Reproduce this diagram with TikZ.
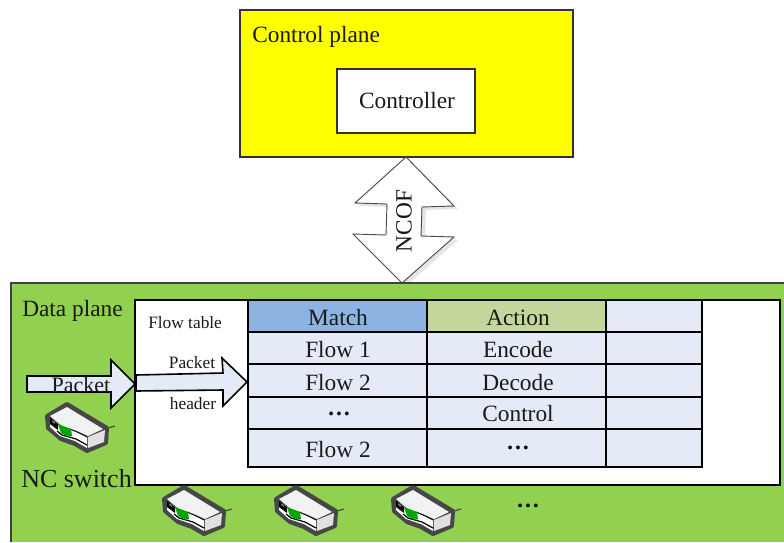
\documentclass[tikz,border=0pt]{standalone}
\usepackage{fontspec}
\setmainfont{Liberation Serif}
\usetikzlibrary{calc}
\definecolor{planegreen}{HTML}{92D14F}
\definecolor{cellblue}{HTML}{E4EBF6}
\definecolor{matchblue}{HTML}{8DB3E2}
\definecolor{actiongreen}{HTML}{C3D69B}
\definecolor{ctrlyellow}{HTML}{FFFF00}
\newcommand{\bigtxt}{\fontsize{17.5}{20}\selectfont}
\newcommand{\smalltxt}{\fontsize{13}{15}\selectfont}
\tikzset{
  x=0.75pt,y=-0.75pt,
  tcell/.style={draw=black,line width=1.2pt,fill=cellblue},
  blockarrow/.style={draw=black,line width=1.2pt,fill=cellblue,line join=miter},
  lab/.style={inner sep=0pt,font=\bigtxt,text=black!90},
  smalllab/.style={inner sep=0pt,font=\smalltxt,text=black!90},
  dotlab/.style={inner sep=0pt,font=\bigtxt\bfseries,text=black,anchor=base},
  ncsw/.pic={
    \draw[black!70,line width=.9pt] (41,1) -- (48,-1);
    \draw[black!72,line width=3pt,line join=round,fill=black!72] (-20,-11) -- (0,-23) -- (40,1) -- (39,16) -- (20,24) -- (8,17) -- (-6,12) -- (-19,1) -- cycle;
    \fill[black!5] (-17,-11) -- (0,-20) -- (36,2) -- (21,9) -- (10,4) -- (-5,-1) -- cycle;
    \fill[black!12] (21,10) -- (38,3) -- (37,15) -- (21,21) -- cycle;
    \fill[white] (-17,-10) -- (-5,0) -- (10,5) -- (20,10) -- (20,21) -- (8,14) -- (-7,9) -- (-17,0) -- cycle;
    \fill[black] (-17,-10) -- (-9,-3) -- (-9,3) -- (-17,-3) -- cycle;
    \fill[black!55] (-15,-7) -- (-12,-5) -- (-12,-3) -- (-15,-5) -- cycle;
    \draw[black,line width=.9pt] (-10,4) -- (-5,8) -- (9,12) -- (20,18);
    \draw[black,line width=.6pt] (3,2) -- (10,5) -- (20,10);
    \fill[green!65!black] (-9,-3) -- (4,2) -- (5,9) -- (2,10) -- (-6,6) -- cycle;
  }
}
\begin{document}
\begin{tikzpicture}
\useasboundingbox (0,0) rectangle (784,542);
\fill[white] (0,0) rectangle (784,542);
% control plane
\node[fill=ctrlyellow,draw=black!80,line width=1.5pt,outer sep=0pt,minimum width=333*0.75pt,minimum height=147*0.75pt,inner sep=0pt,anchor=north west] (ctrlplane) at (240,10) {};
\node[lab,anchor=west] (ctrltxt) at (252,37) {Control plane};
\node[draw=black!80,line width=1.2pt,outer sep=0pt,fill=white,minimum width=138*0.75pt,minimum height=64*0.75pt,inner sep=0pt,anchor=north west] (controller) at (337,69) {};
\node[lab] (ctrllabel) at (407,101) {Controller};
% NCOF shadow and arrow
\fill[black!10] (409,160) -- (458,209) -- (426,210) -- (425,239) -- (458,240) -- (406,286) -- (357,237) -- (390,238) -- (391,207) -- (359,206) -- cycle;
\draw[black!70,line width=.7pt,fill=white] (406,157) -- (454,206) -- (422,207) -- (421,236) -- (454,237) -- (402,283) -- (353,234) -- (386,235) -- (387,204) -- (355,203) -- cycle;
% data plane
\fill[planegreen] (11,283) rectangle (784,542);
\draw[black!75,line width=1.5pt] (11,542) -- (11,283) -- (784,283);
\node[lab,rotate=90] (ncof) at (404,221) {NCOF};
\node[lab,anchor=west] (datatxt) at (22,311) {Data plane};
\node[lab,anchor=west,font=\fontsize{19.5}{22}\selectfont] (nctxt) at (21,479) {NC switch};
% white box
\node[draw=black,line width=1.2pt,outer sep=0pt,fill=white,minimum width=645*0.75pt,minimum height=185*0.75pt,inner sep=0pt,anchor=north west] (flowbox) at (135,300) {};
\node[smalllab,anchor=west] (ftxt) at (148,323) {Flow table};
% table
\path[tcell,fill=matchblue] (248,300) rectangle (427,332);
\path[tcell,fill=actiongreen] (427,300) rectangle (606,332);
\path[tcell] (606,300) rectangle (702,332);
\foreach \ya/\yb in {332/364,364/397,397/429,429/467}{
  \path[tcell] (248,\ya) rectangle (427,\yb);
  \path[tcell] (427,\ya) rectangle (606,\yb);
  \path[tcell] (606,\ya) rectangle (702,\yb);
}
\node[lab] (t1) at (338,318) {Match};
\node[lab] (t2) at (518,318) {Action};
\node[lab] (a1) at (338,350) {Flow 1};
\node[lab] (b1) at (518,350) {Encode};
\node[lab] (a2) at (338,383) {Flow 2};
\node[lab] (b2) at (518,383) {Decode};
\node[dotlab] (a3) at (339,415) {…};
\node[lab] (b3) at (518,414) {Control};
\node[lab] (a4) at (338,450) {Flow 2};
\node[dotlab] (b4) at (518,449) {…};
% arrows
\draw[blockarrow] (27,376) -- (111,376) -- (111,360) -- (135,384) -- (111,408) -- (111,392) -- (27,392) -- cycle;
\draw[blockarrow] (136,375) -- (223,373) -- (222,358) -- (247,382) -- (223,406) -- (223,390) -- (136,391) -- cycle;
\node[lab,font=\fontsize{16.5}{18}\selectfont] (pk1) at (81,385) {Packet};
\node[smalllab] (pk2) at (192,363) {Packet};
\node[smalllab] (pk3) at (193,404) {header};
% switches
\path (67,427) pic {ncsw};
\path (184,510) pic {ncsw};
\path (296,510) pic {ncsw};
\path (413,510) pic {ncsw};
\node[dotlab] (more) at (528,507) {…};
\end{tikzpicture}
\end{document}
